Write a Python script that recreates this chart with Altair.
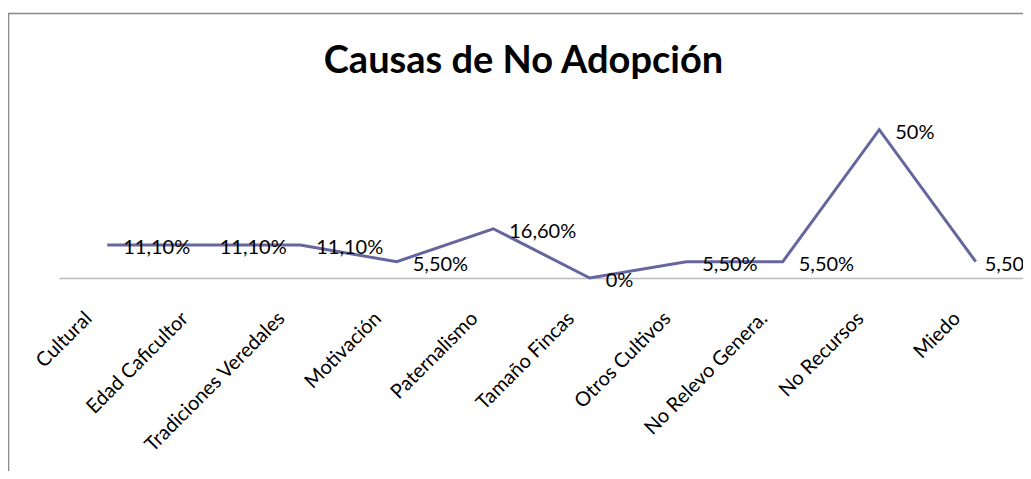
import altair as alt
import pandas as pd

TITLE = "Causas de No Adopción"
categories = ["Cultural", "Edad Caficultor", "Tradiciones Veredales", "Motivación",
              "Paternalismo", "Tamaño Fincas", "Otros Cultivos", "No Relevo Genera.",
              "No Recursos", "Miedo"]
values = [11.1, 11.1, 11.1, 5.5, 16.6, 0.0, 5.5, 5.5, 50.0, 5.5]
labels = ["11,10%", "11,10%", "11,10%", "5,50%", "16,60%", "0%", "5,50%", "5,50%", "50%", "5,50%"]

df = pd.DataFrame({"cat": categories, "val": values, "lab": labels})

FONT = "Lato"
LINE = "#66669E"
LAST = categories[-1]

x = alt.X("cat:N", sort=categories,
          scale=alt.Scale(padding=0.5, range=[0, 965]),
          axis=alt.Axis(title=None, labelAngle=-45, labelAlign="right", labelBaseline="middle",
                        labelFont=FONT, labelFontSize=20, labelColor="#000000",
                        labelPadding=37, labelOffset=-19, ticks=False, labelLimit=0,
                        domainColor="#BBBBBB", domainWidth=1.5,
                        grid=False, labelOverlap=False, labelBound=False))
y = alt.Y("val:Q", scale=alt.Scale(domain=[0, 60], nice=False), axis=None)

base = alt.Chart(df)
line = base.mark_line(color=LINE, strokeWidth=3).encode(x=x, y=y)
text = base.transform_filter(alt.datum.cat != LAST).mark_text(
    align="left", baseline="middle", dx=16, dy=3, font=FONT,
    fontSize=20, color="#000000").encode(x=x, y=y, text="lab:N")
text_last = base.transform_filter(alt.datum.cat == LAST).mark_text(
    align="left", baseline="middle", dx=9, dy=3, font=FONT,
    fontSize=20, color="#000000").encode(x=x, y=y, text="lab:N")

title = alt.Chart(pd.DataFrame({"t": [TITLE]})).mark_text(
    align="center", baseline="alphabetic", font=FONT, fontSize=38, fontWeight="bold",
    color="#000000").encode(x=alt.value(464.5), y=alt.value(-27), text="t:N")

frame_left = alt.Chart(pd.DataFrame({"k": [0]})).mark_rule(color="#888888", strokeWidth=1.5).encode(
    x=alt.value(-50.5), y=alt.value(-87), y2=alt.value(400))
frame_top = alt.Chart(pd.DataFrame({"k": [0]})).mark_rule(color="#888888", strokeWidth=1.5).encode(
    x=alt.value(-51), x2=alt.value(1000), y=alt.value(-86.5))

chart = alt.layer(line, text, text_last, title, frame_left, frame_top).properties(
    width=957, height=178,
    autosize=alt.AutoSizeParams(type="none"),
    padding={"left": 51, "top": 92, "right": 7, "bottom": 193},
).configure_view(stroke=None)

chart.save("out.html", embed_options={"renderer": "svg", "actions": False})
